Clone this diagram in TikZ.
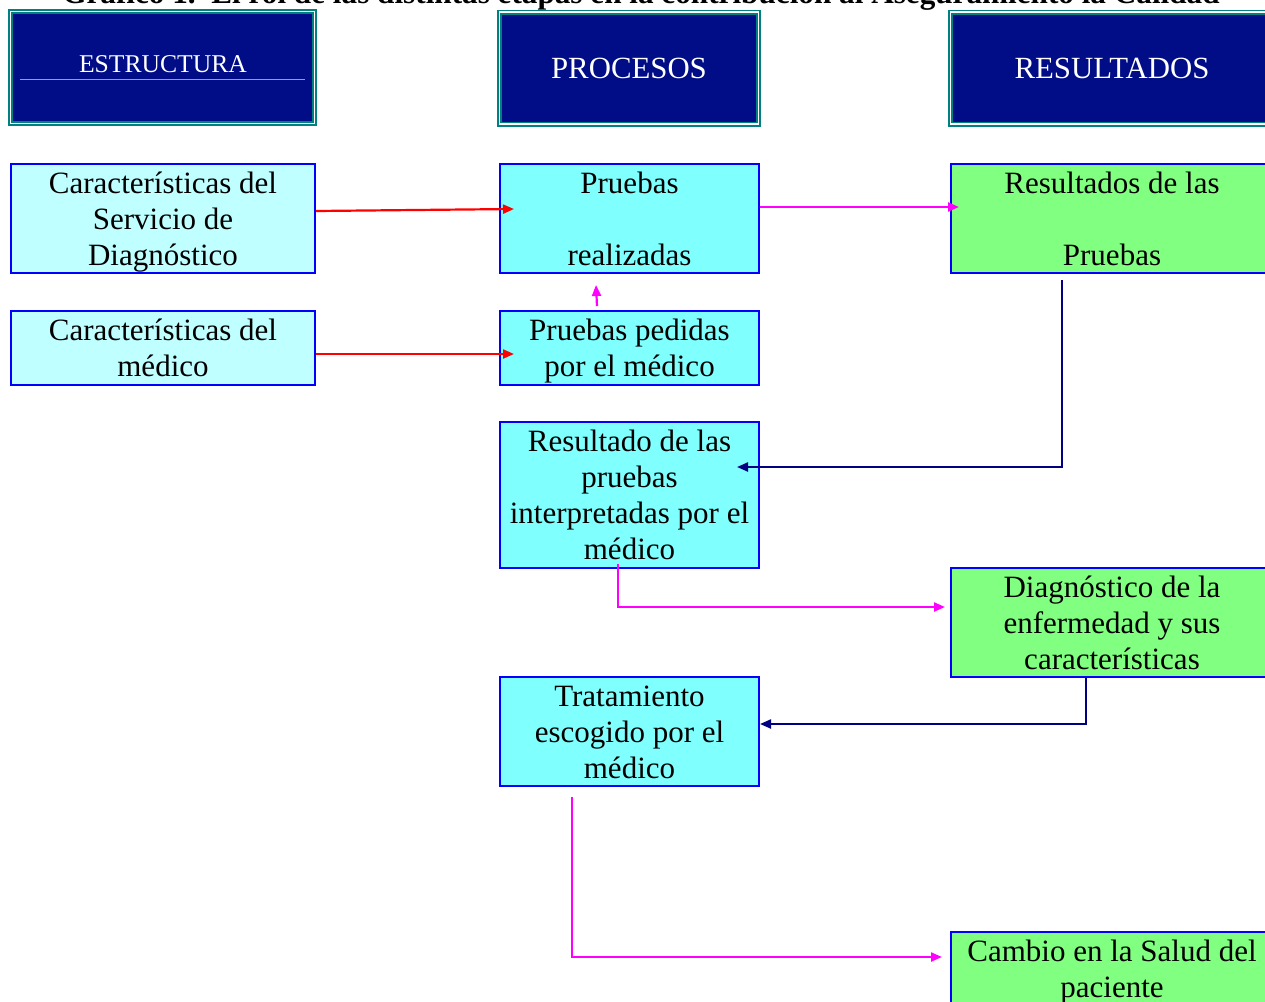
\documentclass[tikz,border=0pt]{standalone}
\usepackage{fontspec}
\setmainfont{Liberation Serif}
\usetikzlibrary{arrows.meta,calc}
\definecolor{navy}{RGB}{0,13,135}
\definecolor{hdrteal}{RGB}{0,128,128}
\definecolor{boxblue}{RGB}{0,0,255}
\definecolor{lcyan}{RGB}{192,255,255}
\definecolor{mcyan}{RGB}{128,255,255}
\definecolor{lgreen}{RGB}{128,255,128}
\definecolor{arrnavy}{RGB}{0,0,128}
\definecolor{arrred}{RGB}{255,0,0}
\definecolor{arrmag}{RGB}{255,0,255}
\definecolor{seprule}{RGB}{150,150,225}
\newcommand\bxt[3]{\parbox[c][#2][t]{#1}{\centering\rule{0pt}{14.5pt}#3}}
\begin{document}
\begin{tikzpicture}[x=0.5pt,y=-0.5pt,
  hdr/.style={draw=hdrteal, double=white, double distance=0.7pt, line width=0.9pt,
    fill=navy, text=white, inner sep=0pt, minimum height=56pt},
  box/.style={draw=boxblue, line width=1pt, inner sep=0pt,
    font=\fontsize{15.5pt}{18pt}\selectfont},
  lbox/.style={box, fill=lcyan},
  pbox/.style={box, fill=mcyan},
  rbox/.style={box, fill=lgreen},
  arr/.style={line width=1.1pt, -{Triangle[length=5.5pt,width=4.5pt]}},
  redarr/.style={arr, draw=arrred},
  magarr/.style={arr, draw=arrmag},
  navarr/.style={arr, draw=arrnavy}]
\useasboundingbox (0,0) rectangle (1265,1002);

% title (cut at the top edge)
\node[anchor=base, font=\bfseries\fontsize{15.6pt}{18pt}\selectfont] (title) at (641,3)
  {Gráfico 1.\ \ El rol de las distintas etapas en la contribución al Aseguramiento la Calidad};

% headers
\node[hdr, minimum width=152pt] (H1) at (162.5,67.5) {};
\node[text=white, font=\fontsize{12.8pt}{15pt}\selectfont, inner sep=0pt] (H1t) at (163,64) {ESTRUCTURA};
\draw[seprule, line width=0.5pt] ($(H1.center)+(-142.5,11.5)$) -- ($(H1.center)+(142.5,11.5)$);
\node[hdr, minimum width=129.5pt, font=\fontsize{15.4pt}{18pt}\selectfont] (H2) at (629,68) {PROCESOS};
\node[hdr, minimum width=161.5pt, font=\fontsize{15.4pt}{18pt}\selectfont] (H3) at (1112,68) {RESULTADOS};

% boxes
\node[lbox] (A) at (163,218.5) {\bxt{152pt}{54.5pt}{Características del\\Servicio de\\Diagnóstico}};
\node[lbox] (B) at (163,348) {\bxt{152pt}{37pt}{Características del\\médico}};
\node[pbox] (P1) at (629.5,218.5) {\bxt{129.5pt}{54.5pt}{Pruebas\\[18pt]realizadas}};
\node[pbox] (P2) at (629.5,348) {\bxt{129.5pt}{37pt}{Pruebas pedidas\\por el médico}};
\node[pbox] (P3) at (629.5,495) {\bxt{129.5pt}{73pt}{Resultado de las\\pruebas\\interpretadas por el\\médico}};
\node[pbox] (P4) at (629.5,731.5) {\bxt{129.5pt}{54.5pt}{Tratamiento\\escogido por el\\médico}};
\node[rbox] (R1) at (1112,218.5) {\bxt{161pt}{54.5pt}{Resultados de las\\[18pt]Pruebas}};
\node[rbox] (R2) at (1112,622.5) {\bxt{161pt}{54.5pt}{Diagnóstico de la\\enfermedad y sus\\características}};
\node[rbox] (R3) at (1112,969) {\bxt{161pt}{37pt}{Cambio en la Salud del\\paciente}};

% connectors
\draw[redarr] ([yshift=3.75pt]A.east) -- ([xshift=7.5pt,yshift=4.75pt]P1.west);
\draw[redarr] ([yshift=-3pt]B.east) -- ([xshift=7.5pt,yshift=-3pt]P2.west);
\draw[magarr] ([xshift=-16.25pt,yshift=2pt]P2.north) -- ([xshift=-16.75pt,yshift=-5.5pt]P1.south);
\draw[magarr] ([yshift=5.75pt]P1.east) -- ([xshift=4.5pt,yshift=5.75pt]R1.west);
\draw[navarr] ([xshift=-25pt,yshift=-3pt]R1.south) |- ([xshift=-11.5pt,yshift=14pt]P3.east);
\draw[magarr] ([xshift=-5.75pt,yshift=2.5pt]P3.south) |- ([xshift=-2.5pt,yshift=7.75pt]R2.west);
\draw[navarr] ([xshift=-13pt]R2.south) |- ([yshift=3.75pt]P4.east);
\draw[magarr] ([xshift=-28.75pt,yshift=-5pt]P4.south) |- ([xshift=-4pt,yshift=6pt]R3.west);
\end{tikzpicture}
\end{document}
